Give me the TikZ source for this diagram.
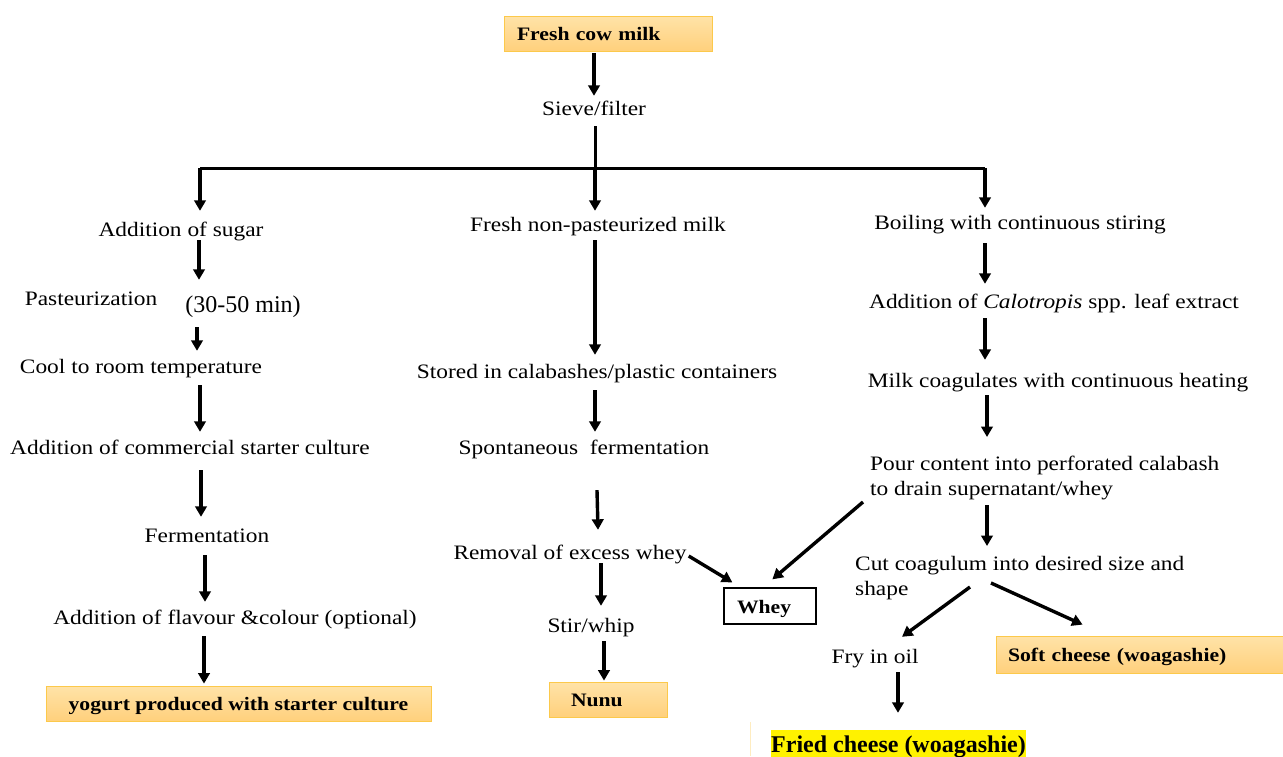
\documentclass[tikz,border=0pt]{standalone}
\usepackage{fontspec}
\setmainfont{Liberation Serif}[FakeStretch=1.14]
\newfontfamily\tnr{Liberation Serif}
\usetikzlibrary{arrows.meta,calc}
\definecolor{boxtop}{HTML}{FFE3A8}
\definecolor{boxbot}{HTML}{FFD07C}
\definecolor{boxline}{HTML}{FCC94B}
\begin{document}
\begin{tikzpicture}[x=1pt,y=-1pt,
  txt/.style={inner sep=0pt,text height=16pt,text depth=2pt,font=\fontsize{20.5}{25}\selectfont},
  mtxt/.style={inner sep=0pt,align=left,anchor=north west,font=\fontsize{20.5}{25}\selectfont},
  obox/.style={top color=boxtop,bottom color=boxbot,draw=boxline,line width=0.8pt,inner ysep=0pt,
    text height=16pt,text depth=2pt,font=\fontsize{19}{22}\selectfont\bfseries},
  wbox/.style={fill=white,draw=black,line width=1.3pt,inner ysep=0pt,
    text height=16pt,text depth=2pt,font=\fontsize{19}{22}\selectfont\bfseries},
  arr/.style={line width=3.4pt,-{Triangle[length=10.5pt,width=11.5pt]}},
  trunk/.style={line width=3pt}]
\fill[white] (0,0) rectangle (1283,756);
\useasboundingbox (0,0) rectangle (1283,756);

% boxes
\node[obox,minimum height=35pt,text width=182pt,inner xsep=13pt,align=left] (top) at (608,33.5) {Fresh cow milk};
\node[obox,minimum height=35pt,minimum width=385pt,inner xsep=0pt] (yog) at (238.5,703.5) {yogurt produced with starter culture};
\node[obox,minimum height=35pt,text width=74pt,inner xsep=22pt,align=left] (nunu) at (608,699.5) {Nunu};
\node[wbox,minimum height=36pt,text width=66pt,inner xsep=13pt,align=left] (whey) at (770,606) {Whey};
\node[obox,minimum height=37pt,text width=270pt,inner xsep=12pt,align=left] (soft) at (1143,654.5) {Soft cheese (woagashie)};
\node[fill=yellow,inner xsep=0pt,inner ysep=0pt,text height=22.7pt,text depth=8pt,anchor=base,
  font=\tnr\fontsize{24}{28}\selectfont\bfseries] (fried) at (898.5,752.7) {Fried cheese (woagashie)};
\draw[boxline!35,line width=0.6pt] (750,722) -- (750,756);

% text nodes
\node[txt] (sieve) at (594,108) {Sieve/filter};
\node[txt] (sugar) at (181,229) {Addition of sugar};
\node[txt] (past) at (91,298) {Pasteurization};
\node[txt,font=\tnr\fontsize{24}{28}\selectfont] (dur) at (243,305) {(30-50 min)};
\node[txt] (cool) at (141,366) {Cool to room temperature};
\node[txt] (comm) at (190,447) {Addition of commercial starter culture};
\node[txt] (ferm) at (207,535) {Fermentation};
\node[txt] (flav) at (235,617) {Addition of flavour \&colour (optional)};
\node[txt] (fresh) at (598,224) {Fresh non-pasteurized milk};
\node[txt] (stored) at (597,371) {Stored in calabashes/plastic containers};
\node[txt] (spont) at (584,447) {Spontaneous\ \ fermentation};
\node[txt] (remov) at (570,552) {Removal of excess whey};
\node[txt] (stir) at (591,625) {Stir/whip};
\node[txt] (boil) at (1020,222) {Boiling with continuous stiring};
\node[txt] (calo) at (1054,301) {Addition of \textit{Calotropis} spp. leaf extract};
\node[txt] (coag) at (1058,380) {Milk coagulates with continuous heating};
\node[mtxt] (pour) at (870,456) {Pour content into perforated calabash\\to drain supernatant/whey};
\node[mtxt] (cut) at (855,556) {Cut coagulum into desired size and\\shape};
\node[txt] (fry) at (875,656) {Fry in oil};

% trunk
\coordinate (hm) at (595,168);
\coordinate (hl) at (200,168);
\coordinate (hr) at (985,168);
\draw[arr] ($(top.south -| 594,0)+(0,2)$) -- ($(sieve.north -| 594,0)+(0,-3)$);
\draw[trunk] ($(sieve.south -| 595,0)+(0,9)$) -- (hm);
\draw[trunk] (hl) -- (hr);
\draw[arr] (hl) -- ($(sugar.north -| hl)+(0,-9)$);
\draw[arr] (hr) -- ($(boil.north -| hr)+(0,-5)$);
\draw[arr] (hm) -- ($(fresh.north -| hm)+(0,-4)$);

% left column
\draw[arr] ($(sugar.south -| 199,0)+(0,2)$) -- ($(past.north -| 199,0)+(0,-9)$);
\draw[arr] ($(past.south -| 197,0)+(0,20)$) -- ($(cool.north -| 197,0)+(0,-6)$);
\draw[arr] ($(cool.south -| 200,0)+(0,10)$) -- ($(comm.north -| 200,0)+(0,-6)$);
\draw[arr] ($(comm.south -| 201,0)+(0,14)$) -- ($(ferm.north -| 201,0)+(0,-9)$);
\draw[arr] ($(ferm.south -| 205,0)+(0,11)$) -- ($(flav.north -| 205,0)+(0,-6)$);
\draw[arr] ($(flav.south -| 204,0)+(0,10)$) -- ($(yog.north -| 204,0)+(0,-2)$);

% middle column
\draw[arr] ($(fresh.south -| 595,0)+(0,7)$) -- ($(stored.north -| 595,0)+(0,-7)$);
\draw[arr] ($(stored.south -| 595,0)+(0,10)$) -- ($(spont.north -| 595,0)+(0,-6)$);
\draw[arr] ($(spont.south -| 597,0)+(0,34)$) -- ($(remov.north -| 598,0)+(0,-13)$);
\draw[arr] ($(remov.south -| 601,0)+(0,2)$) -- ($(stir.north -| 601,0)+(0,-10)$);
\draw[arr] ($(stir.south -| 604,0)+(0,7)$) -- ($(nunu.north -| 604,0)+(0,-1)$);
\draw[arr] ($(remov.east)+(2,4)$) -- ($(whey.north west)+(9,-5)$);
\draw[arr] ($(pour.north west)+(-7,46)$) -- ($(whey.north west)+(49,-8)$);

% right column
\draw[arr] ($(boil.south -| 985,0)+(0,12)$) -- ($(calo.north -| 985,0)+(0,-8)$);
\draw[arr] ($(calo.south -| 985,0)+(0,8)$) -- ($(coag.north -| 985,0)+(0,-11)$);
\draw[arr] ($(coag.south -| 987,0)+(0,6)$) -- ($(pour.north -| 987,0)+(0,-19)$);
\draw[arr] ($(pour.north west -| 987,0)+(0,49)$) -- ($(cut.north -| 987,0)+(0,-10)$);
\draw[arr] ($(cut.north west)+(115,31)$) -- ($(fry.north)+(27,-10)$);
\draw[arr] ($(cut.north west)+(136,27)$) -- ($(soft.north west)+(87,-11)$);
\draw[arr] ($(fry.south -| 898,0)+(0,7)$) -- ($(fried.north -| 898,0)+(0,-17)$);
\end{tikzpicture}
\end{document}
